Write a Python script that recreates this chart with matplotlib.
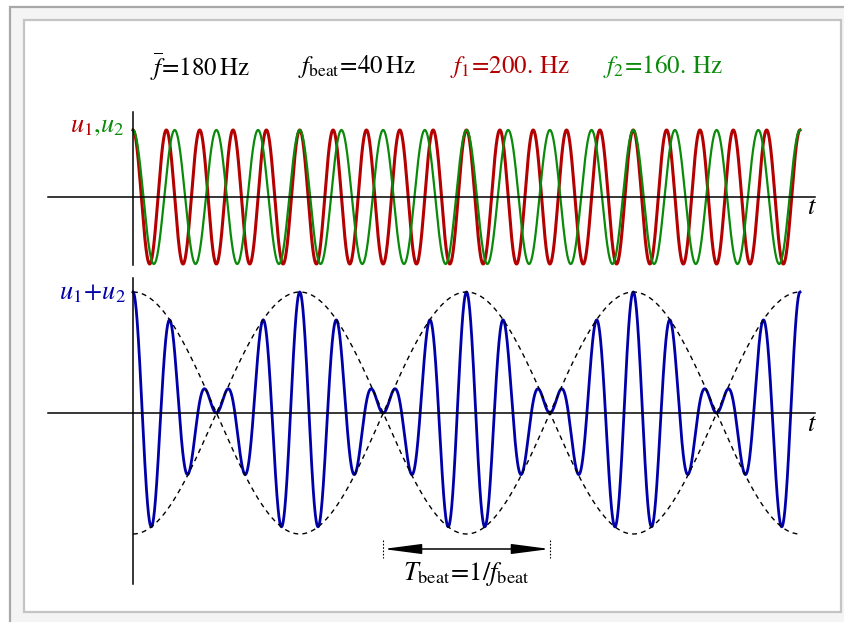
import matplotlib.pyplot as plt
from matplotlib.patches import Rectangle
import numpy as np

plt.rcParams['font.family'] = ['Liberation Serif', 'DejaVu Serif']
plt.rcParams['mathtext.fontset'] = 'stix'

# values
freqs = [200, 160]          # f1, f2 in Hz
freq_labels = ['f_1', 'f_2']
colors = ['#b40000', '#0a8a0a']
widths = [2.2, 1.6]
t_end = 0.1                 # 4 beat periods shown
f_mean = (freqs[0] + freqs[1]) / 2
f_beat = freqs[0] - freqs[1]

W, H = 844, 622
fig = plt.figure(figsize=(W / 100, H / 100), dpi=100, facecolor='white')

# grey frame + white panel
fig.patches.append(Rectangle((10 / W, -0.01), 1, 1 - 7 / H + 0.01, transform=fig.transFigure,
                             facecolor='#f4f4f4', edgecolor='#a8a8a8', lw=1.6, zorder=-3))
fig.patches.append(Rectangle((24 / W, 1 - 612 / H), (841 - 24) / W, (612 - 20) / H,
                             transform=fig.transFigure, facecolor='white',
                             edgecolor='#c4c4c4', lw=1.6, zorder=-2))

px = 667 / t_end   # pixels per second
x0 = (48 - 133) / px
x1 = (815 - 133) / px

def make_axes(top, bottom, center, unit):
    ax = fig.add_axes([48 / W, 1 - bottom / H, 767 / W, (bottom - top) / H])
    ax.set_xlim(x0, x1)
    ax.set_ylim(-(bottom - center) / unit, (center - top) / unit)
    ax.patch.set_alpha(0)
    for s in ['top', 'right']:
        ax.spines[s].set_visible(False)
    ax.spines['left'].set_position(('data', 0))
    ax.spines['bottom'].set_position(('data', 0))
    ax.spines['left'].set_linewidth(1.1)
    ax.spines['bottom'].set_linewidth(1.1)
    ax.set_xticks([])
    ax.set_yticks([])
    return ax

t = np.linspace(0, t_end, 4000)
fs = 19

# top panel: u1, u2
ax1 = make_axes(112, 265, 197, 67)
u1 = np.cos(2 * np.pi * freqs[0] * t)
u2 = np.cos(2 * np.pi * freqs[1] * t)
ax1.plot(t, u2, color=colors[1], lw=widths[1], clip_on=False)
ax1.plot(t, u1, color=colors[0], lw=widths[0], clip_on=False, zorder=1.9)
ax1.text((812 - 133) / px, -0.17, r'$t$', fontsize=fs, ha='center', va='center')
lab1 = ax1.text(-40 / px, 1.04, r'$u_1$', color=colors[0], fontsize=fs,
                ha='right', va='center')
ax1.annotate(r'$,\!u_2$', xycoords=lab1, xy=(1, 0.5), va='center', ha='left',
             color=colors[1], fontsize=fs)

# bottom panel: u1 + u2 with envelope
ax2 = make_axes(278, 584, 413, 60.5)
ax2.plot(t, u1 + u2, color='#0000aa', lw=2.0, clip_on=False)
env = 2 * np.cos(np.pi * f_beat * t)
ax2.plot(t, env, color='black', lw=1.0, ls=(0, (3.5, 3)), clip_on=False)
ax2.plot(t, -env, color='black', lw=1.0, ls=(0, (3.5, 3)), clip_on=False)
ax2.text((812 - 133) / px, -0.2, r'$t$', fontsize=fs, ha='center', va='center')
ax2.text(-7 / px, 1.98, r'$u_1\!+\!u_2$', color='#0000aa', fontsize=fs,
         ha='right', va='center')

# beat period arrow
ta = 1.5 / f_beat
tb = ta + 1 / f_beat
ya = -(549 - 413) / 60.5
ax2.annotate('', xy=(ta, ya), xytext=(tb, ya),
             arrowprops=dict(arrowstyle='<|-|>,head_length=1.3,head_width=0.17',
                             color='black', lw=1.1, mutation_scale=18,
                             shrinkA=0, shrinkB=0),
             annotation_clip=False)
for tt in [ta, tb]:
    ax2.plot([tt, tt], [-(540 - 413) / 60.5, -(558 - 413) / 60.5], color='black',
             lw=0.8, ls=(0, (1.5, 1.5)), clip_on=False)
ax2.text((ta + tb) / 2, -(574 - 413) / 60.5,
         r'$T_{\mathrm{beat}}\!=\!1/f_{\mathrm{beat}}$', fontsize=fs,
         ha='center', va='center')

# header line
yh = 1 - 67 / H
hs = 18
fig.text(200 / W, yh, r'$\overline{f}\!=\!%d\,\mathrm{Hz}$' % f_mean, fontsize=hs,
         ha='center', va='center')
fig.text(357 / W, yh, r'$f_{\mathrm{beat}}\!=\!%d\,\mathrm{Hz}$' % f_beat, fontsize=hs,
         ha='center', va='center')
fig.text(510 / W, yh, r'$%s\!=\!%d.\,\mathrm{Hz}$' % (freq_labels[0], freqs[0]),
         fontsize=hs, ha='center', va='center', color=colors[0])
fig.text(663 / W, yh, r'$%s\!=\!%d.\,\mathrm{Hz}$' % (freq_labels[1], freqs[1]),
         fontsize=hs, ha='center', va='center', color=colors[1])

fig.savefig('out.png', dpi=100)
